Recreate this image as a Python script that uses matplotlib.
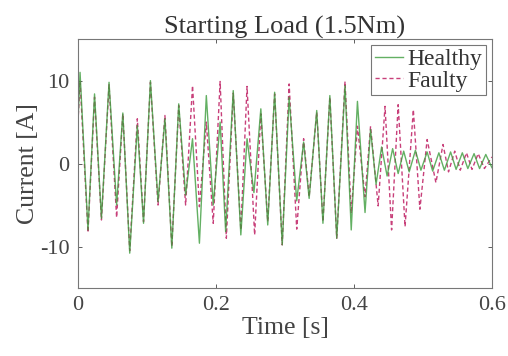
import matplotlib
matplotlib.use('Agg')
import matplotlib.pyplot as plt

# Peaks and troughs (time [s], current [A])
healthy_t = [0.000, 0.003, 0.0145, 0.024, 0.034, 0.045, 0.056, 0.065, 0.075, 0.086,
             0.095, 0.105, 0.116, 0.126, 0.136, 0.146, 0.156, 0.166, 0.176, 0.186,
             0.196, 0.206, 0.214, 0.225, 0.236, 0.245, 0.255, 0.265, 0.275, 0.285,
             0.296, 0.306, 0.317, 0.327, 0.335, 0.346, 0.355, 0.365, 0.375, 0.387,
             0.396, 0.405, 0.416, 0.424, 0.432, 0.440, 0.448, 0.456, 0.464, 0.472,
             0.480, 0.489, 0.497, 0.506, 0.514, 0.523, 0.531, 0.540, 0.548, 0.557,
             0.565, 0.574, 0.582, 0.591, 0.600]
healthy_i = [5.0, 11.0, -8.0, 8.4, -6.6, 9.8, -5.0, 6.1, -10.8, 4.6,
             -7.2, 10.0, -4.6, 5.4, -10.2, 7.2, -3.8, 3.0, -9.6, 8.2,
             -5.0, 5.0, -8.2, 8.8, -8.6, 3.0, -3.5, 6.6, -7.4, 8.6,
             -9.8, 8.0, -4.5, 2.6, -4.2, 6.4, -7.2, 8.2, -9.0, 9.4,
             -8.0, 7.5, -5.9, 4.1, -2.5, 2.0, -1.5, 1.8, -1.2, 1.5,
             -1.0, 1.6, -0.8, 1.4, -0.9, 1.3, -0.8, 1.4, -0.7, 1.3,
             -0.6, 1.2, -0.6, 1.1, -0.5]

faulty_t = [0.000, 0.003, 0.0145, 0.024, 0.034, 0.045, 0.056, 0.065, 0.075, 0.086,
            0.095, 0.105, 0.116, 0.126, 0.136, 0.146, 0.156, 0.166, 0.176, 0.186,
            0.196, 0.206, 0.215, 0.225, 0.236, 0.245, 0.256, 0.265, 0.275, 0.285,
            0.296, 0.306, 0.317, 0.327, 0.335, 0.346, 0.355, 0.365, 0.375, 0.387,
            0.396, 0.405, 0.416, 0.424, 0.435, 0.445, 0.4545, 0.464, 0.474, 0.486,
            0.4955, 0.506, 0.5187, 0.529, 0.537, 0.546, 0.554, 0.563, 0.571, 0.580,
            0.589, 0.600]
faulty_i = [5.0, 10.0, -8.3, 8.0, -6.8, 9.5, -6.5, 6.0, -10.5, 5.4,
            -7.0, 9.8, -5.0, 5.8, -10.0, 7.0, -5.0, 9.4, -5.2, 5.0,
            -7.2, 9.9, -9.0, 8.5, -8.0, 9.3, -8.6, 6.0, -7.0, 8.4,
            -9.8, 9.6, -7.9, 3.0, -4.0, 6.2, -7.0, 8.0, -9.0, 9.9,
            -6.0, 4.5, -4.0, 4.5, -5.1, 6.9, -8.0, 7.1, -7.6, 6.5,
            -5.5, 2.9, -2.3, 2.3, -1.0, 1.5, -0.8, 1.3, -0.7, 1.2,
            -0.6, 0.8]

plt.rcParams['font.family'] = ['Liberation Serif', 'DejaVu Serif']
plt.rcParams['axes.unicode_minus'] = False

fig = plt.figure(figsize=(5.08, 3.56), dpi=100)
ax = fig.add_axes([0.1535, 0.191, 0.815, 0.699])

ax.plot(faulty_t, faulty_i, color='#c8407a', lw=1.0, ls=(0, (3, 2)),
        dash_joinstyle='round', label='Faulty')
ax.plot(healthy_t, healthy_i, color='#3c9c3c', lw=1.0, alpha=0.8,
        solid_joinstyle='round', label='Healthy')

ax.set_xlim(0, 0.6)
ax.set_ylim(-15, 15)
ax.set_xticks([0, 0.2, 0.4, 0.6])
ax.set_xticklabels(['0', '0.2', '0.4', '0.6'])
ax.set_yticks([-10, 0, 10])
ax.tick_params(direction='in', top=True, right=True, labelsize=16, colors='#444444',
               length=3, width=0.6, pad=6)
for s in ax.spines.values():
    s.set_color('#777777')
    s.set_linewidth(0.8)

ax.set_title('Starting Load (1.5Nm)', fontsize=19, color='#333333', pad=4)
ax.set_xlabel('Time [s]', fontsize=18.5, color='#444444', labelpad=1)
ax.set_ylabel('Current [A]', fontsize=18.5, color='#444444', labelpad=1)

handles, labels = ax.get_legend_handles_labels()
leg = ax.legend(handles[::-1], labels[::-1], loc='upper right', fontsize=17,
                fancybox=False, framealpha=1, edgecolor='#777777',
                borderaxespad=0.25, borderpad=0.15, labelspacing=0.0,
                handlelength=1.2, handletextpad=0.2)
leg.get_frame().set_linewidth(0.8)
for t in leg.get_texts():
    t.set_color('#333333')

fig.savefig('out.png', dpi=100)
